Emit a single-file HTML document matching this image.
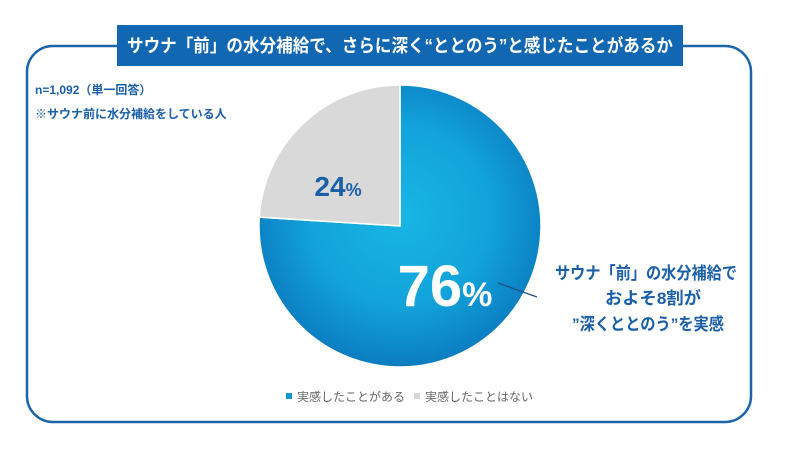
<!DOCTYPE html>
<html><head><meta charset="utf-8"><style>
html,body{margin:0;padding:0;background:#fff;}
body{width:800px;height:450px;position:relative;overflow:hidden;font-family:"Liberation Sans","Noto Sans CJK JP",sans-serif;}
</style></head><body>
<svg width="800" height="450" viewBox="0 0 800 450" xmlns="http://www.w3.org/2000/svg" style="position:absolute;left:0;top:0">
<defs>
<radialGradient id="blueG" cx="400" cy="215" r="150" gradientUnits="userSpaceOnUse">
<stop offset="0" stop-color="#18b6e4"/><stop offset="0.6" stop-color="#12a3da"/><stop offset="1" stop-color="#0b7ec2"/>
</radialGradient>
</defs>
<rect x="27" y="46" width="724" height="376" rx="26" ry="26" fill="none" stroke="#1a64aa" stroke-width="2.5"/>
<rect x="117" y="25" width="566" height="41" fill="#1167b1"/>
<text x="127" y="52" textLength="546" lengthAdjust="spacingAndGlyphs" font-size="18" font-weight="bold" fill="#fff">サウナ「前」の水分補給で、さらに深く“ととのう”と感じたことがあるか</text>
<text x="35" y="94" font-size="12" font-weight="bold" fill="#1a5fa8">n=1,092（単一回答）</text>
<text x="35" y="118" font-size="12" font-weight="bold" fill="#1a5fa8">※サウナ前に水分補給をしている人</text>
<g id="pie"></g>
<line x1="498" y1="283" x2="537" y2="297" stroke="#1a4f80" stroke-width="1.2"/>
<g font-size="17" font-weight="bold" fill="#1a5fa8">
<text x="555" y="279" textLength="182" lengthAdjust="spacingAndGlyphs">サウナ「前」の水分補給で</text>
<text x="605" y="304" textLength="96" lengthAdjust="spacingAndGlyphs">およそ8割が</text>
<text x="572" y="330" textLength="152" lengthAdjust="spacingAndGlyphs">”深くととのう”を実感</text>
</g>
<rect x="286" y="393" width="6" height="6" fill="#1596d4"/>
<text x="297" y="401" font-size="12" fill="#666">実感したことがある</text>
<rect x="414" y="393" width="6" height="6" fill="#d6d6d6"/>
<text x="425" y="401" font-size="12" fill="#666">実感したことはない</text>
<g font-weight="bold" text-anchor="middle">
<text id="lbl0" x="445" y="306" font-size="58" fill="#fff"></text>
<text id="lbl1" x="338" y="196" font-size="28" fill="#1a5fa8"></text>
</g>
</svg>
<script>
const categories=["実感したことがある","実感したことはない"];
const values=[76,24];
const fills=["url(#blueG)","#d9d9d9"];
const g=document.getElementById('pie');
const cx=400,cy=226,r=141;
const total=values.reduce((a,b)=>a+b,0);
let ang=0;
const ns="http://www.w3.org/2000/svg";
function pt(a){return [cx+r*Math.sin(a),cy-r*Math.cos(a)];}
values.forEach((v,i)=>{
  const a0=ang,a1=ang+v/total*2*Math.PI;ang=a1;
  const p0=pt(a0),p1=pt(a1);
  const large=(a1-a0)>Math.PI?1:0;
  const p=document.createElementNS(ns,'path');
  p.setAttribute('d',`M${cx},${cy} L${p0[0]},${p0[1]} A${r},${r} 0 ${large} 1 ${p1[0]},${p1[1]} Z`);
  p.setAttribute('fill',fills[i]);
  p.setAttribute('stroke','#fff');
  p.setAttribute('stroke-width','1.5');
  
  
  g.appendChild(p);
  const t=document.getElementById('lbl'+i);
  t.textContent=String(v);
  const s=document.createElementNS(ns,'tspan');
  s.setAttribute('font-size',i===0?'34':'18');
  s.textContent='%';
  t.appendChild(s);
});
</script>
</body></html>
